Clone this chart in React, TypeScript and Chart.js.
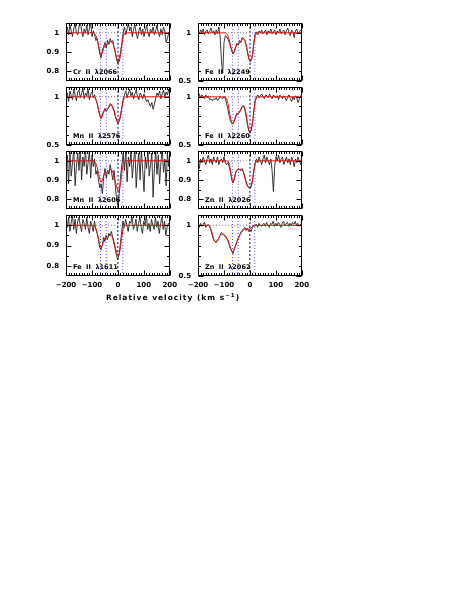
import React, { useEffect, useRef } from 'react';
import { Chart, registerables } from 'chart.js';

Chart.register(...registerables);

// ---------- data ----------
const VELOCITY = [
  -200, -195, -190, -185, -180, -175, -170, -165, -160, -155,
  -150, -145, -140, -135, -130, -125, -120, -115, -110, -105,
  -100, -95, -90, -85, -80, -75, -70, -65, -60, -55,
  -50, -45, -40, -35, -30, -25, -20, -15, -10, -5,
  0, 5, 10, 15, 20, 25, 30, 35, 40, 45,
  50, 55, 60, 65, 70, 75, 80, 85, 90, 95,
  100, 105, 110, 115, 120, 125, 130, 135, 140, 145,
  150, 155, 160, 165, 170, 175, 180, 185, 190, 195,
  200,
];

const FIT_VELOCITY = [
  -200, -160, -155, -150, -145, -140, -135, -130, -125, -120,
  -115, -110, -105, -100, -95, -90, -85, -80, -75, -70,
  -65, -60, -55, -50, -45, -40, -35, -30, -25, -20,
  -15, -10, -5, 0, 5, 10, 15, 20, 25, 30,
  200,
];

const COMPONENT_VELOCITIES = [-67, -45, 0, 19];

const X_MAJOR_TICKS = [-200, -100, 0, 100, 200];
const NARROW_RANGE = [0.75, 1.05];
const NARROW_MAJOR = [0.8, 0.9, 1];
const NARROW_MINOR = [0.85, 0.95];
const WIDE_RANGE = [0.5, 1.1];
const WIDE_MAJOR = [0.5, 1];
const WIDE_MINOR = [0.6, 0.7, 0.8, 0.9];

const CR_II_2066_FLUX = [
  1.00, 1.03, 0.99, 1.04, 1.01, 0.98, 1.02, 1.05, 1.00, 0.99,
  1.03, 1.06, 1.01, 0.98, 1.02, 1.00, 1.04, 0.99, 1.02, 1.06,
  0.98, 1.01, 0.99, 0.96, 0.97, 0.93, 0.89, 0.87, 0.91, 0.93,
  0.95, 0.92, 0.96, 0.94, 0.97, 0.95, 0.96, 0.92, 0.90, 0.86,
  0.84, 0.87, 0.90, 0.95, 1.00, 1.03, 0.99, 1.02, 1.05, 1.01,
  1.03, 0.98, 1.02, 1.04, 1.00, 0.97, 1.01, 1.03, 0.99, 1.02,
  0.98, 1.01, 1.04, 1.00, 0.98, 1.02, 1.00, 1.03, 0.99, 1.01,
  1.04, 1.00, 0.98, 1.02, 0.99, 1.03, 1.01, 0.95, 0.97, 1.00,
  1.01,
];
const CR_II_2066_FIT = [
  1, 1, 1, 1, 1, 1, 1, 1, 1, 1, 1, 1, 1, 1, 1,
  0.995, 0.985, 0.965, 0.935, 0.9, 0.885, 0.895, 0.92, 0.935, 0.935,
  0.94, 0.95, 0.955, 0.955, 0.945, 0.925, 0.895, 0.865, 0.845, 0.85,
  0.885, 0.94, 0.98, 0.997, 1, 1,
];

const MN_II_2576_FLUX = [
  0.98, 1.04, 0.95, 1.06, 1.01, 0.97, 1.08, 1.02, 0.96, 1.05,
  1.07, 0.99, 1.03, 1.09, 0.98, 1.04, 1.01, 1.08, 0.97, 1.03,
  1.05, 0.99, 1.02, 0.97, 0.93, 0.86, 0.81, 0.77, 0.82, 0.85,
  0.88, 0.85, 0.87, 0.90, 0.93, 0.91, 0.88, 0.85, 0.79, 0.76,
  0.72, 0.75, 0.81, 0.90, 0.97, 1.02, 1.06, 0.99, 1.04, 1.08,
  1.01, 1.05, 0.98, 1.03, 1.07, 1.00, 0.97, 1.04, 1.02, 0.98,
  1.03, 0.99, 0.95, 0.97, 0.93, 0.90, 0.94, 0.87, 0.92, 0.99,
  1.04, 1.01, 1.06, 0.98, 1.03, 1.07, 1.00, 1.05, 1.02, 1.08,
  1.03,
];
const MN_II_2576_FIT = [
  1, 1, 1, 1, 1, 1, 1, 1, 1, 1, 1, 1, 1, 1, 1,
  0.99, 0.97, 0.93, 0.87, 0.8, 0.78, 0.8, 0.84, 0.86, 0.86,
  0.87, 0.89, 0.91, 0.92, 0.9, 0.86, 0.8, 0.75, 0.73, 0.745,
  0.8, 0.89, 0.96, 0.99, 1, 1,
];

const MN_II_2606_FLUX = [
  0.96, 1.03, 0.88, 1.05, 0.92, 0.99, 1.06, 0.87, 0.97, 1.04,
  0.95, 1.07, 0.90, 1.02, 0.97, 1.06, 0.93, 0.99, 1.05, 0.91,
  1.03, 0.97, 1.01, 0.93, 0.95, 0.90, 0.86, 0.88, 0.83, 0.92,
  0.96, 0.91, 0.95, 0.93, 0.98, 0.94, 0.90, 0.95, 0.86, 0.80,
  0.76, 0.83, 0.92, 0.98, 1.04, 0.95, 1.06, 0.89, 1.02, 0.97,
  1.05, 0.91, 0.99, 1.07, 0.86, 0.97, 1.04, 0.90, 1.06, 0.95,
  0.84, 1.02, 0.96, 1.06, 0.92, 0.98, 1.04, 0.81, 0.96, 1.05,
  0.93, 1.03, 0.88, 0.99, 1.06, 0.94, 1.01, 0.87, 1.04, 0.97,
  1.02,
];
const MN_II_2606_FIT = [
  1, 1, 1, 1, 1, 1, 1, 1, 1, 1, 1, 1, 1, 1, 1,
  0.995, 0.985, 0.965, 0.935, 0.902, 0.888, 0.898, 0.922, 0.937, 0.938,
  0.943, 0.95, 0.955, 0.953, 0.942, 0.92, 0.89, 0.862, 0.842, 0.848,
  0.885, 0.94, 0.98, 0.997, 1, 1,
];

const FE_II_1611_FLUX = [
  1.02, 0.99, 1.04, 0.97, 1.01, 1.05, 0.98, 1.03, 0.96, 1.02,
  1.04, 1.00, 0.97, 1.03, 1.01, 0.98, 1.04, 0.99, 0.96, 1.02,
  1.00, 0.97, 1.02, 0.98, 0.96, 0.93, 0.89, 0.88, 0.90, 0.94,
  0.92, 0.95, 0.93, 0.96, 0.95, 0.97, 0.94, 0.91, 0.88, 0.85,
  0.83, 0.86, 0.91, 0.97, 1.02, 0.99, 1.03, 1.00, 0.97, 1.02,
  1.01, 1.04, 0.98, 1.00, 1.03, 0.97, 1.01, 1.04, 0.99, 0.96,
  1.02, 1.00, 1.05, 0.98, 1.01, 0.97, 1.03, 1.00, 0.98, 1.04,
  0.99, 1.02, 0.96, 1.01, 1.04, 0.98, 1.02, 0.95, 0.99, 1.01,
  1.00,
];
const FE_II_1611_FIT = [
  1, 1, 1, 1, 1, 1, 1, 1, 1, 1, 1, 1, 1, 1, 1,
  0.995, 0.985, 0.965, 0.937, 0.905, 0.89, 0.9, 0.925, 0.938, 0.938,
  0.942, 0.948, 0.952, 0.95, 0.94, 0.92, 0.893, 0.868, 0.85, 0.855,
  0.89, 0.942, 0.98, 0.997, 1, 1,
];

const FE_II_2249_FLUX = [
  1.02, 0.99, 1.03, 1.00, 1.04, 0.98, 1.01, 1.03, 0.99, 1.02,
  1.05, 1.00, 1.02, 0.98, 1.03, 0.99, 1.06, 0.97, 0.72, 0.58,
  0.90, 0.97, 0.96, 0.93, 0.90, 0.86, 0.81, 0.78, 0.80, 0.86,
  0.89, 0.87, 0.92, 0.90, 0.95, 0.94, 0.92, 0.87, 0.80, 0.73,
  0.70, 0.72, 0.77, 0.90, 0.99, 1.01, 0.98, 1.02, 1.00, 1.03,
  0.99, 1.01, 1.03, 0.98, 1.02, 1.00, 1.04, 0.99, 1.01, 1.03,
  0.98, 1.02, 1.00, 1.04, 0.99, 1.01, 1.03, 0.98, 1.02, 1.05,
  1.00, 0.97, 1.03, 1.01, 0.95, 1.02, 1.04, 0.99, 1.01, 1.03,
  1.00,
];
const FE_II_2249_FIT = [
  1, 1, 1, 1, 1, 1, 1, 1, 1, 1, 1, 1, 1, 1, 1,
  0.99, 0.97, 0.93, 0.87, 0.81, 0.79, 0.81, 0.85, 0.875, 0.88,
  0.89, 0.91, 0.935, 0.94, 0.925, 0.88, 0.81, 0.74, 0.705, 0.71,
  0.78, 0.9, 0.97, 0.995, 1, 1,
];

const FE_II_2260_FLUX = [
  1.00, 1.03, 0.99, 1.02, 1.00, 0.98, 1.02, 0.99, 1.01, 0.97,
  0.98, 0.96, 0.98, 0.97, 0.99, 0.96, 0.98, 1.00, 0.99, 0.98,
  1.00, 0.98, 0.93, 0.87, 0.80, 0.75, 0.72, 0.72, 0.76, 0.80,
  0.83, 0.82, 0.85, 0.86, 0.90, 0.91, 0.87, 0.80, 0.71, 0.65,
  0.62, 0.66, 0.74, 0.86, 0.96, 1.00, 1.02, 0.99, 1.01, 1.03,
  1.00, 0.98, 1.02, 1.01, 0.99, 1.03, 1.00, 0.98, 1.02, 1.00,
  0.99, 1.01, 0.97, 1.02, 1.00, 0.98, 1.01, 0.99, 0.96, 1.00,
  1.02, 0.98, 0.95, 1.00, 0.97, 1.01, 0.99, 0.94, 0.98, 1.01,
  0.99,
];
const FE_II_2260_FIT = [
  1, 1, 1, 1, 1, 1, 1, 1, 1, 1, 1, 1, 1, 1, 1,
  0.98, 0.93, 0.86, 0.78, 0.73, 0.72, 0.74, 0.79, 0.82, 0.825,
  0.84, 0.87, 0.9, 0.905, 0.88, 0.82, 0.73, 0.66, 0.635, 0.65,
  0.73, 0.86, 0.95, 0.99, 1, 1,
];

const ZN_II_2026_FLUX = [
  0.98, 0.96, 1.01, 0.99, 1.02, 1.00, 0.98, 1.01, 1.03, 0.99,
  1.01, 0.98, 1.02, 1.00, 0.99, 1.02, 0.98, 1.00, 1.01, 0.99,
  1.02, 0.99, 0.98, 0.99, 0.97, 0.94, 0.90, 0.885, 0.91, 0.94,
  0.95, 0.96, 0.955, 0.95, 0.96, 0.94, 0.92, 0.89, 0.87, 0.86,
  0.855, 0.865, 0.90, 0.95, 0.99, 1.01, 0.99, 1.02, 1.00, 0.98,
  1.01, 1.03, 0.99, 1.02, 1.00, 0.98, 1.01, 0.95, 0.84, 0.97,
  1.02, 1.00, 1.03, 0.99, 1.01, 1.02, 0.98, 1.00, 1.02, 0.99,
  1.01, 0.98, 1.02, 1.00, 0.97, 1.01, 0.99, 1.02, 1.00, 0.98,
  1.00,
];
const ZN_II_2026_FIT = [
  1, 1, 1, 1, 1, 1, 1, 1, 1, 1, 1, 1, 1, 1, 1,
  1, 0.998, 0.985, 0.95, 0.905, 0.887, 0.905, 0.94, 0.953, 0.955,
  0.955, 0.955, 0.95, 0.94, 0.915, 0.885, 0.868, 0.864, 0.864, 0.87,
  0.9, 0.95, 0.985, 0.998, 1, 1,
];

const ZN_II_2062_FLUX = [
  1.00, 0.98, 1.02, 0.99, 1.01, 1.03, 0.98, 1.00, 1.01, 0.99,
  0.95, 0.90, 0.86, 0.84, 0.83, 0.86, 0.87, 0.90, 0.93, 0.92,
  0.90, 0.89, 0.87, 0.86, 0.82, 0.78, 0.75, 0.72, 0.77, 0.80,
  0.84, 0.87, 0.90, 0.93, 0.95, 0.96, 0.98, 0.95, 0.97, 0.94,
  0.96, 0.94, 0.98, 1.00, 0.99, 1.01, 0.98, 1.02, 1.00, 0.99,
  1.01, 1.02, 0.99, 1.03, 1.00, 0.98, 1.02, 1.01, 1.04, 0.99,
  1.02, 1.00, 1.03, 1.01, 0.98, 1.02, 1.04, 1.00, 1.02, 1.03,
  0.99, 1.02, 1.00, 1.03, 1.01, 1.04, 1.00, 1.02, 0.99, 1.01,
  1.02,
];
const ZN_II_2062_FIT = [
  1, 1, 0.99, 0.96, 0.92, 0.87, 0.845, 0.835, 0.845, 0.875,
  0.9, 0.91, 0.915, 0.91, 0.9, 0.88, 0.85, 0.81, 0.77, 0.745,
  0.74, 0.76, 0.8, 0.84, 0.866, 0.895, 0.92, 0.94, 0.95, 0.96,
  0.965, 0.965, 0.962, 0.965, 0.975, 0.985, 0.995, 1, 1, 1,
  1,
];

// ---------- panels ----------
type PanelDef = {
  label: string;
  flux: number[];
  fit: number[];
  wide: boolean;
  col: number;
  row: number;
};

const PANELS: PanelDef[] = [
  { label: 'Cr  II  \u03bb2066', flux: CR_II_2066_FLUX, fit: CR_II_2066_FIT, wide: false, col: 0, row: 0 },
  { label: 'Mn  II  \u03bb2576', flux: MN_II_2576_FLUX, fit: MN_II_2576_FIT, wide: true, col: 0, row: 1 },
  { label: 'Mn  II  \u03bb2606', flux: MN_II_2606_FLUX, fit: MN_II_2606_FIT, wide: false, col: 0, row: 2 },
  { label: 'Fe  II  \u03bb1611', flux: FE_II_1611_FLUX, fit: FE_II_1611_FIT, wide: false, col: 0, row: 3 },
  { label: 'Fe  II  \u03bb2249', flux: FE_II_2249_FLUX, fit: FE_II_2249_FIT, wide: true, col: 1, row: 0 },
  { label: 'Fe  II  \u03bb2260', flux: FE_II_2260_FLUX, fit: FE_II_2260_FIT, wide: true, col: 1, row: 1 },
  { label: 'Zn  II  \u03bb2026', flux: ZN_II_2026_FLUX, fit: ZN_II_2026_FIT, wide: false, col: 1, row: 2 },
  { label: 'Zn  II  \u03bb2062', flux: ZN_II_2062_FLUX, fit: ZN_II_2062_FIT, wide: true, col: 1, row: 3 },
];

// ---------- layout ----------
const COL_X = [66, 198];
const ROW_Y = [20, 84, 148, 212];
const PANEL_W = 104;
const PANEL_H = 64;
const AXIS_W = 40;
const PAD_T = 8;
const PAD_R = 12;
const PAD_B = 8;
const XAXIS_H = 30;
const FONT = { family: '"DejaVu Sans", sans-serif', size: 7, weight: 'bold' as const };

const fmtY = (v: number) => String(Math.round(v * 10) / 10);
const fmtX = (v: number) => (v < 0 ? '\u2212' + Math.abs(v) : String(v));

const framePlugin = {
  id: 'frame',
  afterDatasetsDraw(chart: any, _args: any, opts: any) {
    const { ctx, chartArea: a, scales } = chart;
    const xs = scales.x;
    const ys = scales.y;
    ctx.save();
    ctx.strokeStyle = '#000';
    ctx.lineWidth = 1;
    ctx.setLineDash([]);
    const line = (x1: number, y1: number, x2: number, y2: number) => {
      ctx.beginPath();
      ctx.moveTo(x1, y1);
      ctx.lineTo(x2, y2);
      ctx.stroke();
    };
    const L = Math.round(a.left) + 0.5;
    const R = Math.round(a.right) - 0.5;
    const T = Math.round(a.top) + 0.5;
    const B = Math.round(a.bottom) - 0.5;
    ctx.strokeRect(L, T, R - L, B - T);
    const xMinor: number[] = [];
    for (let v = -190; v < 200; v += 10) if (v % 100 !== 0) xMinor.push(v);
    X_MAJOR_TICKS.forEach((v) => {
      const px = Math.round(xs.getPixelForValue(v)) + 0.5;
      line(px, B, px, B - 5);
      line(px, T, px, T + 5);
    });
    xMinor.forEach((v) => {
      const px = Math.round(xs.getPixelForValue(v)) + 0.5;
      line(px, B, px, B - 2.5);
      line(px, T, px, T + 2.5);
    });
    (opts.yMajor as number[]).forEach((v) => {
      const py = Math.round(ys.getPixelForValue(v)) + 0.5;
      line(L, py, L + 5, py);
      line(R, py, R - 5, py);
    });
    (opts.yMinor as number[]).forEach((v) => {
      const py = Math.round(ys.getPixelForValue(v)) + 0.5;
      line(L, py, L + 2.5, py);
      line(R, py, R - 2.5, py);
    });
    ctx.fillStyle = '#000';
    ctx.font = 'bold 6.5px "DejaVu Sans", sans-serif';
    ctx.textAlign = 'left';
    ctx.textBaseline = 'alphabetic';
    ctx.fillText(opts.label, a.left + 7, a.bottom - 7);
    ctx.restore();
  },
};

function Panel({ p }: { p: PanelDef }) {
  const ref = useRef<HTMLCanvasElement>(null);
  const bottom = p.row === 3;
  const W = AXIS_W + PANEL_W + PAD_R;
  const H = PAD_T + PANEL_H + (bottom ? XAXIS_H : PAD_B);
  const left = COL_X[p.col] - AXIS_W;
  const top = ROW_Y[p.row] - PAD_T;

  useEffect(() => {
    const [ymin, ymax] = p.wide ? WIDE_RANGE : NARROW_RANGE;
    const yMajor = p.wide ? WIDE_MAJOR : NARROW_MAJOR;
    const yMinor = p.wide ? WIDE_MINOR : NARROW_MINOR;
    const common = { pointRadius: 0, tension: 0, fill: false, clip: 0 as any };
    const chart = new Chart(ref.current as HTMLCanvasElement, {
      type: 'line',
      data: {
        datasets: [
          {
            ...common,
            data: FIT_VELOCITY.map((v, i) => ({ x: v, y: p.fit[i] })),
            borderColor: '#ee1111',
            borderWidth: 1,
          },
          {
            ...common,
            data: VELOCITY.map((v, i) => ({ x: v, y: p.flux[i] })),
            borderColor: '#222222',
            borderWidth: 0.9,
          },
          ...COMPONENT_VELOCITIES.map((v) => ({
            ...common,
            data: [
              { x: v, y: ymin },
              { x: v, y: ymax },
            ],
            borderColor: v === 0 ? '#000080' : '#5a5aff',
            borderDash: v === 0 ? [2, 2] : [1, 2],
            borderWidth: 1,
          })),
          {
            ...common,
            data: [
              { x: -200, y: 1 },
              { x: 200, y: 1 },
            ],
            borderColor: '#888888',
            borderDash: [1, 2],
            borderWidth: 1,
          },
        ],
      } as any,
      options: {
        responsive: false,
        animation: false,
        events: [],
        layout: { padding: { top: PAD_T, right: PAD_R, bottom: bottom ? 0 : PAD_B, left: 0 } },
        plugins: {
          legend: { display: false },
          tooltip: { enabled: false },
          frame: { label: p.label, yMajor, yMinor },
        } as any,
        scales: {
          x: {
            type: 'linear',
            min: -200,
            max: 200,
            display: bottom,
            grid: { display: false, drawTicks: false },
            border: { display: false },
            afterBuildTicks: (s: any) => {
              s.ticks = X_MAJOR_TICKS.map((v) => ({ value: v }));
            },
            afterFit: (s: any) => {
              if (bottom) s.height = XAXIS_H;
            },
            ticks: {
              padding: 5,
              font: FONT,
              color: '#000',
              maxRotation: 0,
              autoSkip: false,
              callback: (v: any) => fmtX(Number(v)),
            },
          },
          y: {
            type: 'linear',
            min: ymin,
            max: ymax,
            grid: { display: false, drawTicks: false },
            border: { display: false },
            afterBuildTicks: (s: any) => {
              s.ticks = yMajor.map((v) => ({ value: v }));
            },
            afterFit: (s: any) => {
              s.width = AXIS_W;
            },
            ticks: {
              padding: 7,
              font: FONT,
              color: '#000',
              autoSkip: false,
              callback: (v: any) => fmtY(Number(v)),
            },
          },
        } as any,
      },
      plugins: [framePlugin as any],
    });
    return () => chart.destroy();
  }, []);

  return (
    <canvas
      ref={ref}
      width={W}
      height={H}
      style={{ position: 'absolute', left, top, width: W, height: H }}
    />
  );
}

export default function App() {
  return (
    <div style={{ position: 'absolute', left: 0, top: 0, width: 474, height: 614, background: '#fff' }}>
      {PANELS.map((p, i) => (
        <Panel key={i} p={p} />
      ))}
      <div
        style={{
          position: 'absolute',
          left: 73,
          top: 293,
          width: 200,
          textAlign: 'center',
          font: 'bold 7.5px "DejaVu Sans", sans-serif',
          letterSpacing: '1px',
          lineHeight: '9px',
          color: '#000',
          whiteSpace: 'nowrap',
        }}
      >
        Relative velocity (km s<sup style={{ fontSize: '5.5px', verticalAlign: '3px', lineHeight: 0 }}>{'\u22121'}</sup>)
      </div>
    </div>
  );
}
